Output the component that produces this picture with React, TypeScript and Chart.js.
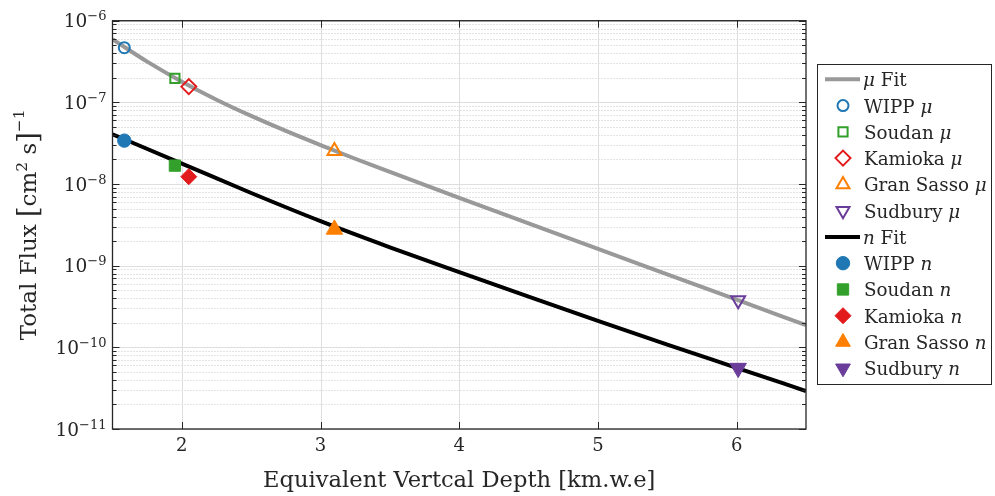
import React, { useEffect, useRef } from 'react';
import { Chart, registerables } from 'chart.js';

Chart.register(...registerables);

const FONT = '"DejaVu Serif", "Liberation Serif", serif';

// Fit curves
const muFitDepth = [1.5, 1.75, 2, 2.25, 2.5, 2.75, 3, 3.25, 3.5, 4, 4.5, 5, 5.5, 6, 6.5];
const muFitFlux = [5.94e-7, 3.15e-7, 1.79e-7, 1.078e-7, 6.82e-8, 4.47e-8, 3.0e-8, 2.04e-8, 1.41e-8, 6.78e-9, 3.3e-9, 1.605e-9, 7.84e-10, 3.83e-10, 1.87e-10];
const nFitDepth = [1.5, 2, 2.5, 3, 3.5, 4, 4.5, 5, 5.5, 6, 6.5];
const nFitFlux = [4.07e-8, 1.78e-8, 7.76e-9, 3.51e-9, 1.68e-9, 8.32e-10, 4.17e-10, 2.11e-10, 1.08e-10, 5.62e-11, 2.92e-11];

// Laboratories
const labNames = ['WIPP', 'Soudan', 'Kamioka', 'Gran Sasso', 'Sudbury'];
const labDepth = [1.585, 1.95, 2.05, 3.1, 6.011];
const muFlux = [4.67e-7, 1.97e-7, 1.56e-7, 2.54e-8, 3.77e-10];
const nFlux = [3.4e-8, 1.68e-8, 1.23e-8, 2.78e-9, 5.57e-11];
const labColors = ['#1f78b4', '#33a02c', '#e31a1c', '#ff7f00', '#6a3d9a'];
const labStyles = ['circle', 'rect', 'rectRot', 'triangle', 'triangle'];
const labRotation = [0, 0, 0, 0, 180];
const muRadius = [5.5, 6.5, 7.5, 8, 8];
const nRadius = [6.7, 8, 8, 9.5, 9.5];

const xTicks = [2, 3, 4, 5, 6];
const yDecades = [-11, -10, -9, -8, -7, -6];

const MU_COLOR = '#999999';
const N_COLOR = '#000000';
const AXIS_COLOR = '#262626';

type Part = { t: string; size: number; italic?: boolean; dy?: number };

function partFont(p: Part) {
  return `${p.italic ? 'italic ' : ''}${p.size}px ${FONT}`;
}

function drawRich(ctx: CanvasRenderingContext2D, parts: Part[], x: number, y: number, align: 'left' | 'center' | 'right') {
  ctx.textAlign = 'left';
  ctx.textBaseline = 'alphabetic';
  let w = 0;
  for (const p of parts) {
    ctx.font = partFont(p);
    w += ctx.measureText(p.t).width;
  }
  let cx = align === 'left' ? x : align === 'center' ? x - w / 2 : x - w;
  for (const p of parts) {
    ctx.font = partFont(p);
    ctx.fillText(p.t, cx, y + (p.dy || 0));
    cx += ctx.measureText(p.t).width;
  }
}

function drawMarker(ctx: CanvasRenderingContext2D, style: string, rot: number, r: number, x: number, y: number, color: string, filled: boolean, bw: number) {
  ctx.save();
  ctx.translate(x, y);
  ctx.rotate((rot * Math.PI) / 180);
  ctx.beginPath();
  if (style === 'circle') {
    ctx.arc(0, 0, r, 0, Math.PI * 2);
  } else if (style === 'rect') {
    const s = r * Math.SQRT1_2;
    ctx.rect(-s, -s, 2 * s, 2 * s);
  } else if (style === 'rectRot') {
    ctx.moveTo(0, -r);
    ctx.lineTo(r, 0);
    ctx.lineTo(0, r);
    ctx.lineTo(-r, 0);
    ctx.closePath();
  } else {
    for (let k = 0; k < 3; k++) {
      const a = (k * 2 * Math.PI) / 3;
      const px = Math.sin(a) * r;
      const py = -Math.cos(a) * r;
      if (k === 0) ctx.moveTo(px, py);
      else ctx.lineTo(px, py);
    }
    ctx.closePath();
  }
  if (filled) {
    ctx.fillStyle = color;
    ctx.fill();
  }
  ctx.strokeStyle = color;
  ctx.lineWidth = bw;
  ctx.stroke();
  ctx.restore();
}

const decorPlugin = {
  id: 'decor',
  beforeDatasetsDraw(chart: any) {
    const { ctx, chartArea: a, scales } = chart;
    const x = scales.x;
    const y = scales.y;
    ctx.save();
    // minor dotted grid (y)
    ctx.strokeStyle = '#c9c9c9';
    ctx.lineWidth = 1;
    ctx.setLineDash([1, 2]);
    for (let e = -11; e < -6; e++) {
      for (let m = 2; m <= 9; m++) {
        const py = Math.round(y.getPixelForValue(m * Math.pow(10, e))) + 0.5;
        ctx.beginPath();
        ctx.moveTo(a.left, py);
        ctx.lineTo(a.right, py);
        ctx.stroke();
      }
    }
    ctx.setLineDash([]);
    ctx.strokeStyle = '#dedede';
    for (const e of yDecades) {
      const py = Math.round(y.getPixelForValue(Math.pow(10, e))) + 0.5;
      ctx.beginPath();
      ctx.moveTo(a.left, py);
      ctx.lineTo(a.right, py);
      ctx.stroke();
    }
    for (const v of xTicks) {
      const px = Math.round(x.getPixelForValue(v)) + 0.5;
      ctx.beginPath();
      ctx.moveTo(px, a.top);
      ctx.lineTo(px, a.bottom);
      ctx.stroke();
    }
    ctx.restore();
  },
  afterDatasetsDraw(chart: any) {
    const { ctx, chartArea: a, scales } = chart;
    const x = scales.x;
    const y = scales.y;
    ctx.save();
    ctx.strokeStyle = AXIS_COLOR;
    ctx.lineWidth = 1.3;
    ctx.strokeRect(a.left, a.top, a.right - a.left, a.bottom - a.top);
    ctx.lineWidth = 1;
    // inward ticks
    ctx.beginPath();
    for (const v of xTicks) {
      const px = Math.round(x.getPixelForValue(v)) + 0.5;
      ctx.moveTo(px, a.bottom);
      ctx.lineTo(px, a.bottom - 7);
      ctx.moveTo(px, a.top);
      ctx.lineTo(px, a.top + 7);
    }
    for (let e = -11; e <= -6; e++) {
      const py = Math.round(y.getPixelForValue(Math.pow(10, e))) + 0.5;
      ctx.moveTo(a.left, py);
      ctx.lineTo(a.left + 7, py);
      ctx.moveTo(a.right, py);
      ctx.lineTo(a.right - 7, py);
      if (e < -6) {
        for (let m = 2; m <= 9; m++) {
          const pm = Math.round(y.getPixelForValue(m * Math.pow(10, e))) + 0.5;
          ctx.moveTo(a.left, pm);
          ctx.lineTo(a.left + 4, pm);
          ctx.moveTo(a.right, pm);
          ctx.lineTo(a.right - 4, pm);
        }
      }
    }
    ctx.stroke();
    ctx.restore();
  },
  afterDraw(chart: any) {
    const { ctx, chartArea: a, scales } = chart;
    const y = scales.y;
    ctx.save();
    ctx.fillStyle = AXIS_COLOR;
    // y tick labels
    for (const e of yDecades) {
      const py = y.getPixelForValue(Math.pow(10, e));
      drawRich(ctx, [
        { t: '10', size: 18.5 },
        { t: '\u2212' + String(-e), size: 13, dy: -7 },
      ], a.left - 6, py + 6.5, 'right');
    }
    // x axis title
    drawRich(ctx, [{ t: 'Equivalent Vertcal Depth [km.w.e]', size: 22.6 }], (a.left + a.right) / 2, 486.5, 'center');
    // y axis title
    ctx.save();
    ctx.translate(36, (a.top + a.bottom) / 2);
    ctx.rotate(-Math.PI / 2);
    drawRich(ctx, [
      { t: 'Total Flux ', size: 23 },
      { t: '[', size: 27, dy: 1 },
      { t: 'cm', size: 23 },
      { t: '2', size: 15.5, dy: -9 },
      { t: ' s', size: 23 },
      { t: ']', size: 27, dy: 1 },
      { t: '\u22121', size: 15.5, dy: -12 },
    ], 0, 0, 'center');
    ctx.restore();

    // legend
    const lx = 817.5, ly = 64.5, lw = 174, lh = 320;
    ctx.fillStyle = '#ffffff';
    ctx.fillRect(lx, ly, lw, lh);
    ctx.strokeStyle = AXIS_COLOR;
    ctx.lineWidth = 1;
    ctx.strokeRect(lx, ly, lw, lh);
    const rowY = (i: number) => 79.3 + i * 26.27;
    const textX = 864;
    const markX = 843;
    const drawGroup = (start: number, fitColor: string, sym: string, filled: boolean) => {
      const r0 = rowY(start);
      ctx.strokeStyle = fitColor;
      ctx.lineWidth = 4;
      ctx.beginPath();
      ctx.moveTo(825, r0);
      ctx.lineTo(860, r0);
      ctx.stroke();
      ctx.fillStyle = AXIS_COLOR;
      drawRich(ctx, [{ t: sym, size: 18.3, italic: true }, { t: ' Fit', size: 18.3 }], textX - 1, r0 + 7, 'left');
      for (let i = 0; i < labNames.length; i++) {
        const ry = rowY(start + 1 + i);
        const rr = filled ? Math.min(nRadius[i], 8.5) : Math.min(muRadius[i], 7.5);
        drawMarker(ctx, labStyles[i], labRotation[i], rr, markX, ry, labColors[i], filled, filled ? 1 : 2);
        ctx.fillStyle = AXIS_COLOR;
        drawRich(ctx, [{ t: labNames[i] + ' ', size: 18.3 }, { t: sym, size: 18.3, italic: true }], textX, ry + 7, 'left');
      }
    };
    drawGroup(0, MU_COLOR, '\u03bc', false);
    drawGroup(6, N_COLOR, 'n', true);
    ctx.restore();
  },
};

function buildDatasets() {
  const ds: any[] = [];
  for (let i = 0; i < labNames.length; i++) {
    ds.push({
      type: 'scatter',
      label: labNames[i] + ' \u03bc',
      data: [{ x: labDepth[i], y: muFlux[i] }],
      pointStyle: labStyles[i],
      pointRotation: labRotation[i],
      pointRadius: muRadius[i],
      pointHoverRadius: muRadius[i],
      pointBorderWidth: 2,
      pointBackgroundColor: 'rgba(0,0,0,0)',
      pointBorderColor: labColors[i],
      order: 0,
    });
  }
  for (let i = 0; i < labNames.length; i++) {
    ds.push({
      type: 'scatter',
      label: labNames[i] + ' n',
      data: [{ x: labDepth[i], y: nFlux[i] }],
      pointStyle: labStyles[i],
      pointRotation: labRotation[i],
      pointRadius: nRadius[i],
      pointHoverRadius: nRadius[i],
      pointBorderWidth: 1,
      pointBackgroundColor: labColors[i],
      pointBorderColor: labColors[i],
      order: 0,
    });
  }
  ds.push({
    type: 'line',
    label: '\u03bc Fit',
    data: muFitDepth.map((d, i) => ({ x: d, y: muFitFlux[i] })),
    borderColor: MU_COLOR,
    borderWidth: 4,
    pointRadius: 0,
    fill: false,
    cubicInterpolationMode: 'monotone',
    order: 1,
  });
  ds.push({
    type: 'line',
    label: 'n Fit',
    data: nFitDepth.map((d, i) => ({ x: d, y: nFitFlux[i] })),
    borderColor: N_COLOR,
    borderWidth: 4,
    pointRadius: 0,
    fill: false,
    cubicInterpolationMode: 'monotone',
    order: 1,
  });
  return ds;
}

export default function App() {
  const ref = useRef<HTMLCanvasElement>(null);
  useEffect(() => {
    if (!ref.current) return;
    const chart = new Chart(ref.current, {
      type: 'scatter',
      data: { datasets: buildDatasets() },
      options: {
        animation: false,
        responsive: true,
        maintainAspectRatio: false,
        devicePixelRatio: 1,
        events: [],
        layout: { padding: { top: 20.7, right: 189, left: 0, bottom: 0 } },
        plugins: { legend: { display: false }, tooltip: { enabled: false } },
        scales: {
          x: {
            type: 'linear',
            min: 1.5,
            max: 6.5,
            grid: { display: false, drawTicks: false },
            border: { display: false },
            afterBuildTicks: (s: any) => {
              s.ticks = xTicks.map((v) => ({ value: v }));
            },
            ticks: {
              maxRotation: 0,
              autoSkip: false,
              padding: 7,
              color: AXIS_COLOR,
              font: { family: FONT, size: 18 },
              callback: (v: any) => String(v),
            },
            afterFit: (s: any) => {
              s.height = 67;
            },
          },
          y: {
            type: 'logarithmic',
            min: 1e-11,
            max: 1e-6,
            grid: { display: false, drawTicks: false },
            border: { display: false },
            ticks: { display: false },
            afterFit: (s: any) => {
              s.width = 112.5;
            },
          },
        },
      } as any,
      plugins: [decorPlugin],
    });
    return () => chart.destroy();
  }, []);
  return (
    <div style={{ position: 'fixed', left: 0, top: 0, width: 995, height: 496, background: '#ffffff' }}>
      <canvas ref={ref} />
    </div>
  );
}
